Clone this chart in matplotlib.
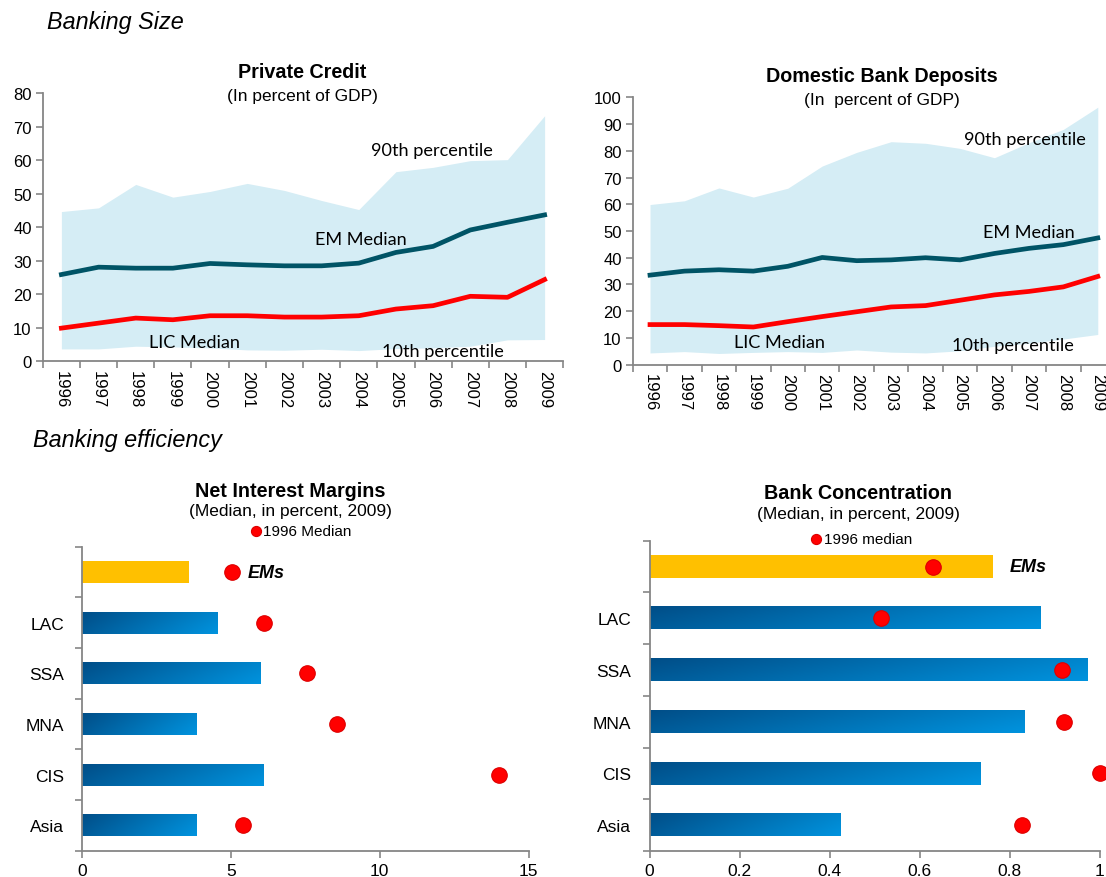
import matplotlib.pyplot as plt
import numpy as np
from matplotlib.colors import LinearSegmentedColormap

# ---- data ----
years = [str(y) for y in range(1996, 2010)]

credit_p90 = [44.7, 45.8, 52.8, 49.0, 50.7, 53.1, 51.0, 48.0, 45.3, 56.6, 57.9, 59.9, 60.2, 73.3]
credit_p10 = [3.7, 3.7, 4.5, 4.3, 4.0, 3.4, 3.3, 3.6, 3.2, 3.8, 4.0, 4.5, 6.4, 6.5]
credit_em = [25.9, 28.1, 27.8, 27.8, 29.2, 28.8, 28.5, 28.5, 29.3, 32.5, 34.3, 39.2, 41.5, 43.7]
credit_lic = [9.9, 11.4, 12.9, 12.4, 13.6, 13.6, 13.2, 13.2, 13.6, 15.6, 16.6, 19.4, 19.1, 24.4]

deposit_p90 = [59.9, 61.3, 66.1, 62.7, 66.0, 74.3, 79.4, 83.4, 82.8, 80.9, 77.4, 83.0, 88.0, 96.3]
deposit_p10 = [4.4, 4.9, 4.2, 4.6, 4.9, 4.6, 5.5, 4.7, 4.4, 5.2, 6.9, 8.0, 9.6, 11.3]
deposit_em = [33.5, 35.0, 35.5, 35.0, 36.8, 40.1, 38.9, 39.2, 40.0, 39.2, 41.6, 43.5, 44.9, 47.4]
deposit_lic = [15.0, 15.0, 14.6, 14.1, 16.1, 18.0, 19.8, 21.6, 22.1, 24.1, 26.1, 27.4, 29.1, 33.0]

regions = ['', 'LAC', 'SSA', 'MNA', 'CIS', 'Asia']   # first row is the EM aggregate
nim_2009 = [3.61, 4.56, 5.98, 3.83, 6.11, 3.83]
nim_1996 = [5.03, 6.12, 7.56, 8.57, 13.99, 5.41]
conc_2009 = [0.763, 0.868, 0.971, 0.831, 0.734, 0.423]
conc_1996 = [0.630, 0.515, 0.917, 0.921, 1.0, 0.827]

W, H = 1106, 878
SANS = ['Liberation Sans', 'DejaVu Sans']
NOTE = ['Lato', 'DejaVu Sans']
GRAY = '#868686'

plt.rcParams['font.family'] = SANS

fig = plt.figure(figsize=(W / 100, H / 100), dpi=100)


def fx(x, y):
    return x / W, 1 - y / H


def axes_px(left, top, right, bottom):
    return fig.add_axes([left / W, 1 - bottom / H, (right - left) / W, (bottom - top) / H])


def style_spines(ax):
    for s in ['top', 'right']:
        ax.spines[s].set_visible(False)
    for s in ['left', 'bottom']:
        ax.spines[s].set_color(GRAY)
        ax.spines[s].set_linewidth(1.3)


def band_chart(ax, p10, p90, em, lic, ymax, notes):
    x = np.arange(len(years))
    ax.fill_between(x, p10, p90, color='#D5EDF5', lw=0, zorder=1)
    ax.plot(x, em, color='#005466', lw=3.4, zorder=3)
    ax.plot(x, lic, color='#FF0000', lw=3.4, zorder=3)
    ax.set_xlim(-0.5, len(years) - 0.5)
    ax.set_ylim(0, ymax)
    ax.set_yticks(np.arange(0, ymax + 1, 10))
    ax.set_xticks(np.arange(-0.5, len(years)))
    ax.set_xticklabels([])
    ax.set_xticks(x, minor=True)
    ax.set_xticklabels(years, minor=True, rotation=270, fontsize=12)
    ax.tick_params(axis='x', which='minor', length=0, pad=6)
    ax.tick_params(axis='x', which='major', length=5, color=GRAY, width=1.2)
    ax.tick_params(axis='y', length=5, color=GRAY, width=1.2, labelsize=12, pad=3)
    style_spines(ax)
    for txt, xi, yv in notes:
        ax.text(xi, yv, txt, ha='center', va='center', fontsize=13.1, family=NOTE, zorder=4)


blue_cmap = LinearSegmentedColormap.from_list('barblue', ['#004E88', '#0093DE'])


def bar_chart(ax, vals, dots, xmax, xticks, xlabels, leg_label, leg_xy, ems_x):
    y = np.arange(len(regions))
    bars = ax.barh(y, vals, height=0.43, color='none', lw=0)
    gx = np.linspace(0, 1, 200)
    gy = np.linspace(0, 1, 20)
    grad = 0.8 * gx[None, :] + 0.2 * gy[:, None]
    for i, b in enumerate(bars):
        if i == 0:
            b.set_facecolor('#FFC000')
        else:
            ax.imshow(grad, cmap=blue_cmap, aspect='auto', zorder=1,
                      extent=(b.get_x(), b.get_x() + b.get_width(),
                              b.get_y() + b.get_height(), b.get_y()))
    ax.scatter(dots, y, s=125, color='#FF0000', edgecolor='#DD0000', lw=0.8,
               zorder=3, clip_on=False, label=leg_label)
    ax.text(ems_x, y[0], 'EMs', ha='left', va='center', fontsize=13,
            fontweight='bold', fontstyle='italic')
    ax.set_xlim(0, xmax)
    ax.set_ylim(len(regions) - 0.5, -0.5)
    ax.set_xticks(xticks)
    ax.set_xticklabels(xlabels)
    ax.set_yticks(np.arange(-0.5, len(regions)))
    ax.set_yticklabels([])
    ax.set_yticks(y, minor=True)
    ax.set_yticklabels(regions, minor=True)
    ax.tick_params(axis='y', which='minor', length=0, pad=13, labelsize=12.5)
    ax.tick_params(axis='y', which='major', length=5, color=GRAY, width=1.2)
    ax.tick_params(axis='x', length=5, color=GRAY, width=1.2, labelsize=12.5, pad=4)
    style_spines(ax)
    ax.legend(loc='center', bbox_to_anchor=leg_xy, frameon=False, fontsize=11,
              markerscale=0.65, handletextpad=0.0, borderpad=0, handlelength=1.0)


# ---- top: banking size ----
ax1 = axes_px(42.8, 94.3, 563.2, 362.3)
band_chart(ax1, credit_p10, credit_p90, credit_em, credit_lic, 80,
           [('90th percentile', 9.97, 63.2), ('EM Median', 8.05, 36.5),
            ('LIC Median', 3.57, 5.9), ('10th percentile', 10.26, 3.1)])

ax2 = axes_px(632.8, 98.3, 1115.0, 365.7)
band_chart(ax2, deposit_p10, deposit_p90, deposit_em, deposit_lic, 100,
           [('90th percentile', 10.88, 84.4), ('EM Median', 10.99, 49.8),
            ('LIC Median', 3.75, 8.6), ('10th percentile', 10.55, 7.5)])

# ---- bottom: banking efficiency ----
ax3 = axes_px(82, 547.7, 528.6, 851.7)
bar_chart(ax3, nim_2009, nim_1996, 15, [0, 5, 10, 15], ['0', '5', '10', '15'],
          '1996 Median', (0.488, 1.05), 5.55)

ax4 = axes_px(649.5, 541.7, 1099.7, 852)
bar_chart(ax4, conc_2009, conc_1996, 1, [0, 0.2, 0.4, 0.6, 0.8, 1],
          ['0', '0.2', '0.4', '0.6', '0.8', '1'], '1996 median', (0.468, 1.007), 0.80)

# ---- titles ----
fig.text(*fx(46.7, 23), 'Banking Size', fontsize=16.8, fontstyle='italic', va='center')
fig.text(*fx(33, 441), 'Banking efficiency', fontsize=16.8, fontstyle='italic', va='center')

titles = [
    (302, 73, 'Private Credit', 96, '(In percent of GDP)'),
    (882, 77, 'Domestic Bank Deposits', 100, '(In  percent of GDP)'),
    (290, 492, 'Net Interest Margins', 512, '(Median, in percent, 2009)'),
    (858, 494, 'Bank Concentration', 515, '(Median, in percent, 2009)'),
]
for xc, yt, t, ys, sub in titles:
    fig.text(*fx(xc, yt), t, fontsize=14.2, fontweight='bold', ha='center', va='center')
    fig.text(*fx(xc, ys), sub, fontsize=12.5, ha='center', va='center')

fig.savefig('out.png', dpi=100)
